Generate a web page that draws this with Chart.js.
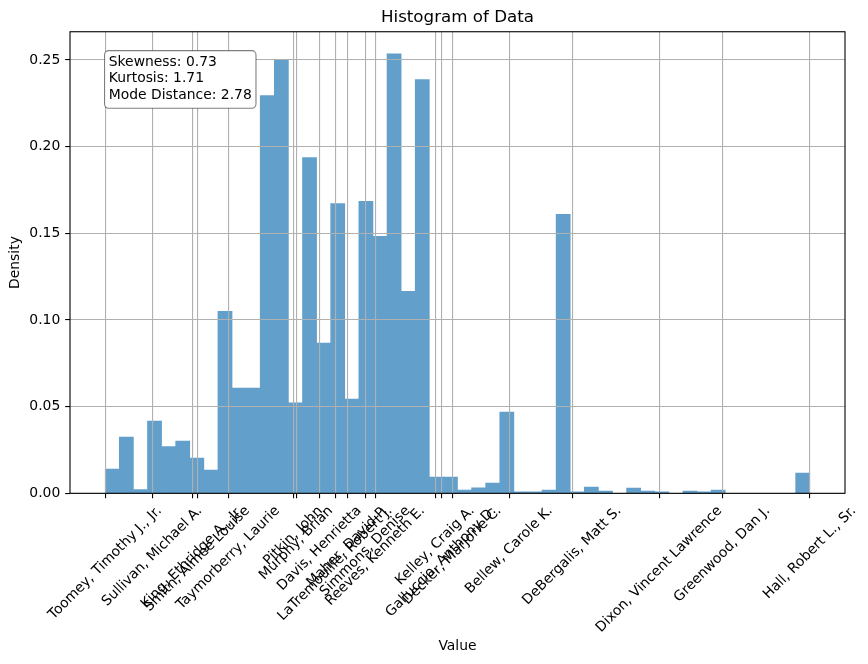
<!DOCTYPE html>
<html>
<head>
<meta charset="utf-8">
<title>Histogram of Data</title>
<script src="https://cdn.jsdelivr.net/npm/chart.js@4.4.1/dist/chart.umd.min.js"></script>
<style>
  html, body { margin: 0; padding: 0; background: #fff; }
  #wrap { width: 868px; height: 664px; position: relative; }
</style>
</head>
<body>
<div id="wrap"><canvas id="histChart"></canvas></div>
<script>
// density of each of the 50 bins (bin i covers [i, i+1] on the x axis)
const binDensities = [
  0.0140, 0.0324, 0.0021, 0.0416, 0.0269, 0.0301, 0.0203, 0.0134, 0.1050, 0.0607,
  0.0607, 0.2294, 0.2498, 0.0522, 0.1937, 0.0866, 0.1672, 0.0543, 0.1684, 0.1482,
  0.2536, 0.1165, 0.2387, 0.0094, 0.0094, 0.0019, 0.0031, 0.0059, 0.0468, 0.0008,
  0.0008, 0.0019, 0.1609, 0.0008, 0.0036, 0.0013, 0.0000, 0.0030, 0.0013, 0.0008,
  0.0000, 0.0013, 0.0008, 0.0019, 0.0000, 0.0000, 0.0000, 0.0000, 0.0000, 0.0117
];

// names shown on the x axis and where they sit (same units as the bins)
const tickNames = [
  'Toomey, Timothy J., Jr.', 'Sullivan, Michael A.', 'King, Ethridge A., Jr.',
  'Smith, Aimee Louise', 'Taymorberry, Laurie', 'Pitkin, John', 'Murphy, Brian',
  'Davis, Henrietta', 'LaTremouille, Robert J.', 'Maher, David P.', 'Simmons, Denise',
  'Reeves, Kenneth E.', 'Kelley, Craig A.', 'Galluccio, Anthony D.', 'Decker, Marjorie C.',
  'Bellew, Carole K.', 'DeBergalis, Matt S.', 'Dixon, Vincent Lawrence',
  'Greenwood, Dan J.', 'Hall, Robert L., Sr.'
];
const tickPositions = [
  0, 3.335, 6.17, 6.53, 8.73, 13.34, 13.55, 15.20, 16.32, 17.17, 18.45,
  19.16, 23.41, 23.84, 24.62, 28.66, 33.13, 39.31, 43.78, 50
];

const yTicks = [0, 0.05, 0.10, 0.15, 0.20, 0.25];
const statsLines = ['Skewness: 0.73', 'Kurtosis: 1.71', 'Mode Distance: 2.78'];

const FONT = '"DejaVu Sans", "Liberation Sans", sans-serif';
const GRID = '#b0b0b0';
const BAR = 'rgb(98, 160, 203)';

// x range with matplotlib's 5% margins
const xMin = -0.05 * 50;
const xMax = 50 + 0.05 * 50;
const yMax = Math.max(...binDensities) * 1.05;

Chart.defaults.font.family = FONT;
Chart.defaults.color = '#000';

// rotated name labels, centred on their tick like matplotlib does it
const nameLabels = {
  id: 'nameLabels',
  afterDraw(chart) {
    const ctx = chart.ctx;
    const scale = chart.scales.x;
    const top = chart.chartArea.bottom + 9.7;
    ctx.save();
    ctx.font = '13.9px ' + FONT;
    ctx.fillStyle = '#000';
    ctx.textAlign = 'center';
    ctx.textBaseline = 'middle';
    tickNames.forEach((name, i) => {
      const x = scale.getPixelForValue(tickPositions[i]);
      const w = ctx.measureText(name).width;
      const half = (w + 16) * Math.SQRT1_2 / 2;
      ctx.save();
      ctx.translate(x, top + half);
      ctx.rotate(-Math.PI / 4);
      ctx.fillText(name, 0, 0);
      ctx.restore();
    });
    ctx.restore();
  }
};

// stats box in the upper left corner + the axes frame
const statsBox = {
  id: 'statsBox',
  afterDraw(chart) {
    const ctx = chart.ctx;
    const area = chart.chartArea;
    const tx = area.left + 0.05 * (area.right - area.left);
    const ty = area.top + 0.05 * (area.bottom - area.top);
    const pad = 4.2;
    const step = 16.6;
    ctx.save();
    ctx.font = '13.9px ' + FONT;
    const w = Math.max(...statsLines.map(s => ctx.measureText(s).width));
    const h = step * (statsLines.length - 1) + 16;
    ctx.beginPath();
    ctx.roundRect(tx - pad, ty - pad, w + 2 * pad, h + 2 * pad, pad);
    ctx.fillStyle = '#fff';
    ctx.fill();
    ctx.lineWidth = 1.1;
    ctx.strokeStyle = 'rgba(0,0,0,0.5)';
    ctx.stroke();
    ctx.fillStyle = '#000';
    ctx.textAlign = 'left';
    ctx.textBaseline = 'alphabetic';
    statsLines.forEach((s, i) => ctx.fillText(s, tx, ty + 10.9 + i * step));

    ctx.lineWidth = 1.1;
    ctx.strokeStyle = '#000';
    ctx.strokeRect(area.left, area.top, area.right - area.left, area.bottom - area.top);
    ctx.restore();
  }
};

const ctx = document.getElementById('histChart').getContext('2d');
new Chart(ctx, {
  type: 'bar',
  data: {
    datasets: [{
      label: 'Density',
      data: binDensities.map((v, i) => ({ x: i + 0.5, y: v })),
      xAxisID: 'xb',
      yAxisID: 'y',
      backgroundColor: BAR,
      borderWidth: 0,
      barPercentage: 1,
      categoryPercentage: 1
    }]
  },
  options: {
    responsive: true,
    maintainAspectRatio: false,
    animation: false,
    layout: { padding: { left: 0, right: 23, top: 0, bottom: 0 } },
    plugins: {
      legend: { display: false },
      tooltip: { enabled: false },
      title: {
        display: true,
        text: 'Histogram of Data',
        fullSize: false,
        color: '#000',
        font: { size: 16.7, weight: 'normal' },
        padding: { top: 7.7, bottom: 4 }
      }
    },
    scales: {
      xb: {
        type: 'linear',
        display: false,
        offset: false,
        grid: { offset: false },
        min: xMin,
        max: xMax
      },
      x: {
        type: 'linear',
        position: 'bottom',
        offset: false,
        min: xMin,
        max: xMax,
        afterBuildTicks: scale => { scale.ticks = tickPositions.map(v => ({ value: v })); },
        afterFit: scale => { scale.height = 170.7; },
        ticks: { display: false },
        grid: { offset: false, color: GRID, lineWidth: 1.1, z: 1, drawTicks: true, tickLength: 4.86, tickColor: '#000', tickWidth: 1.1 },
        border: { display: false },
        title: { display: true, text: 'Value', color: '#000', font: { size: 13.9 }, padding: { top: 9, bottom: 9 } }
      },
      y: {
        type: 'linear',
        position: 'left',
        min: 0,
        max: yMax,
        afterBuildTicks: scale => { scale.ticks = yTicks.map(v => ({ value: v })); },
        afterFit: scale => { scale.width = 70; },
        ticks: { color: '#000', font: { size: 13.9 }, padding: 4.86, callback: v => v.toFixed(2) },
        grid: { color: GRID, lineWidth: 1.1, z: 1, drawTicks: true, tickLength: 4.86, tickColor: '#000', tickWidth: 1.1 },
        border: { display: false },
        title: { display: true, text: 'Density', color: '#000', font: { size: 13.9 }, padding: { top: 6.7, bottom: 6.7 } }
      }
    }
  },
  plugins: [nameLabels, statsBox]
});
</script>
</body>
</html>
